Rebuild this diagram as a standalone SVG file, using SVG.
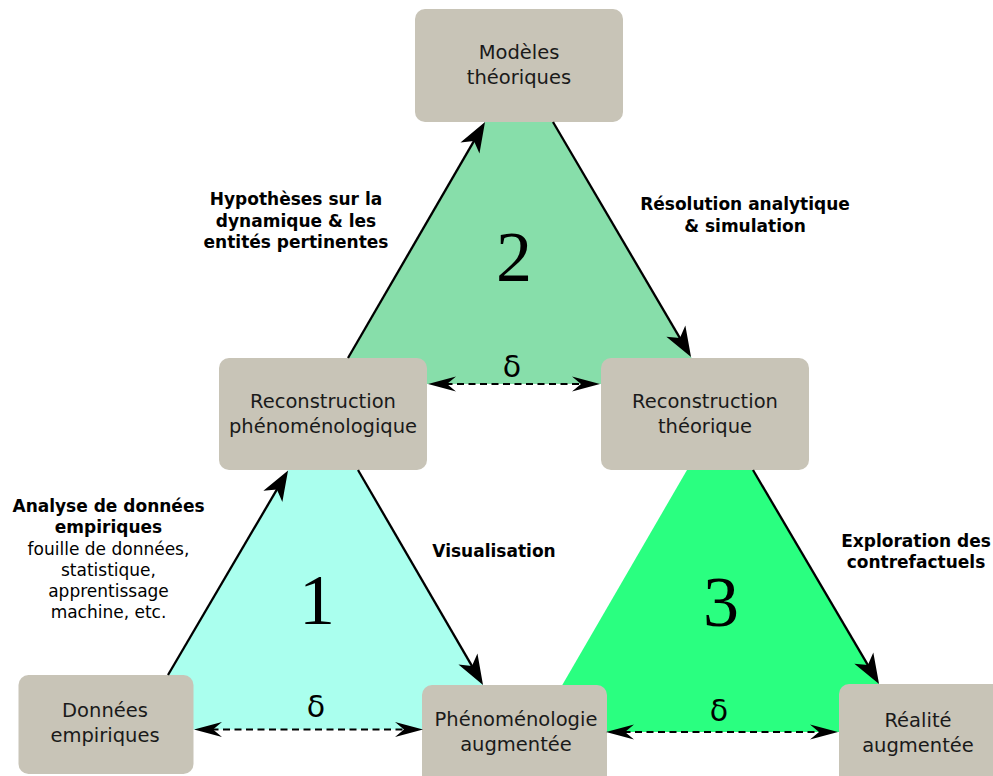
<svg xmlns="http://www.w3.org/2000/svg" width="993" height="776" viewBox="0 0 993 776">
<style>
.box{fill:#c8c4b7;}
.bt{font-family:"DejaVu Sans","Liberation Sans",sans-serif;font-size:19.5px;fill:#1a1a1a;text-anchor:middle;}
.lb{font-family:"DejaVu Sans","Liberation Sans",sans-serif;font-size:17px;font-weight:bold;fill:#000;text-anchor:middle;}
.lr{font-family:"DejaVu Sans","Liberation Sans",sans-serif;font-size:17px;fill:#000;text-anchor:middle;}
.num{font-family:"Liberation Serif","DejaVu Serif",serif;font-size:72px;fill:#000;text-anchor:middle;}
.dl{font-family:"DejaVu Sans","Liberation Sans",sans-serif;font-size:30px;fill:#000;text-anchor:middle;}
.solid{stroke:#000;stroke-width:2.3;fill:none;marker-end:url(#ah);}
.dash{stroke:#000;stroke-width:1.8;fill:none;stroke-dasharray:7,4.5;marker-start:url(#dh);marker-end:url(#dh);}
</style>
<defs>
<marker id="ah" markerUnits="userSpaceOnUse" orient="auto" refX="0" refY="0" markerWidth="40" markerHeight="30" viewBox="-28 -15 40 30" overflow="visible">
<path d="M8,0 L-22,-11 L-14,0 L-22,11 Z" fill="#000"/>
</marker>
<marker id="dh" markerUnits="userSpaceOnUse" orient="auto-start-reverse" refX="0" refY="0" markerWidth="40" markerHeight="20" viewBox="-28 -10 40 20" overflow="visible">
<path d="M6,0 L-22,-7.5 L-13,0 L-22,7.5 Z" fill="#000"/>
</marker>
</defs>
<rect width="993" height="776" fill="#fff"/>
<g id="fills">
<polygon points="485,122 553,122 707,384 333,384" fill="#87deaa"/>
<polygon points="288,470 358,470 509,729.5 136,729.5" fill="#aaffee"/>
<polygon points="687,470 753,470 907,732 535,732" fill="#2aff80"/>
</g>
<g id="modeles-theoriques">
<rect class="box" x="415" y="9" width="208" height="113" rx="10"/>
<text class="bt" x="519" y="59">Modèles</text>
<text class="bt" x="519" y="84">théoriques</text>
</g>
<g id="reconstruction-phenomenologique">
<rect class="box" x="219" y="358" width="208" height="112" rx="10"/>
<text class="bt" x="323" y="408">Reconstruction</text>
<text class="bt" x="323" y="433">phénoménologique</text>
</g>
<g id="reconstruction-theorique">
<rect class="box" x="601" y="358" width="208" height="112" rx="10"/>
<text class="bt" x="705" y="408">Reconstruction</text>
<text class="bt" x="705" y="433">théorique</text>
</g>
<g id="donnees-empiriques">
<rect class="box" x="18.5" y="675" width="175" height="99" rx="10"/>
<text class="bt" x="105" y="717">Données</text>
<text class="bt" x="105" y="742">empiriques</text>
</g>
<g id="phenomenologie-augmentee">
<rect class="box" x="422" y="685" width="185" height="110" rx="10"/>
<text class="bt" x="516" y="726">Phénoménologie</text>
<text class="bt" x="516" y="751">augmentée</text>
</g>
<g id="realite-augmentee">
<rect class="box" x="839" y="684" width="170" height="110" rx="10"/>
<text class="bt" x="918" y="727">Réalité</text>
<text class="bt" x="918" y="752">augmentée</text>
</g>
<g id="connectors">
<line class="solid" x1="348" y1="358" x2="481" y2="128.9"/>
<line class="solid" x1="553" y1="122" x2="687" y2="350.1"/>
<line class="solid" x1="168" y1="675" x2="284" y2="477.4"/>
<line class="solid" x1="358" y1="470" x2="479" y2="678.1"/>
<line class="solid" x1="753" y1="470" x2="875" y2="677.1"/>
<line class="dash" x1="434" y1="384" x2="594" y2="384"/>
<line class="dash" x1="200" y1="729.5" x2="417" y2="729.5"/>
<line class="dash" x1="612" y1="732" x2="832" y2="732"/>
</g>
<g id="labels">
<text class="lb" x="296" y="205">Hypothèses sur la</text>
<text class="lb" x="296" y="227">dynamique &amp; les</text>
<text class="lb" x="296" y="248">entités pertinentes</text>
<text class="lb" x="745" y="210">Résolution analytique</text>
<text class="lb" x="745" y="231.5">&amp; simulation</text>
<text class="lb" x="108.5" y="512">Analyse de données</text>
<text class="lb" x="108.5" y="533">empiriques</text>
<text class="lr" x="108.5" y="554.5">fouille de données,</text>
<text class="lr" x="108.5" y="575.5">statistique,</text>
<text class="lr" x="108.5" y="597">apprentissage</text>
<text class="lr" x="108.5" y="618">machine, etc.</text>
<text class="lb" x="494" y="557">Visualisation</text>
<text class="lb" x="916" y="547">Exploration des</text>
<text class="lb" x="916" y="568">contrefactuels</text>
<text class="num" x="514" y="281">2</text>
<text class="num" x="317" y="624">1</text>
<text class="num" x="721" y="626">3</text>
<text class="dl" x="512" y="377">δ</text>
<text class="dl" x="316" y="717">δ</text>
<text class="dl" x="719" y="721">δ</text>
</g>
</svg>
